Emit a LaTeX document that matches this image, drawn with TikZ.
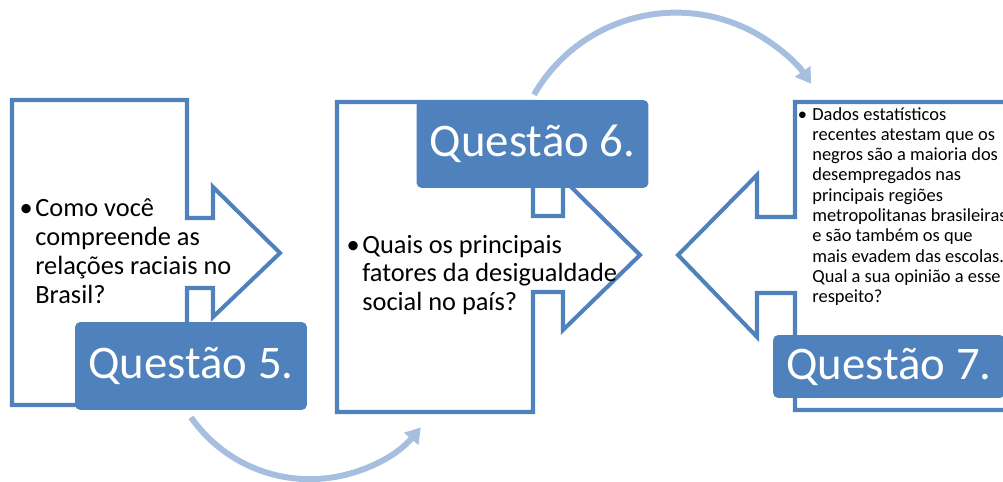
\documentclass[tikz,border=0pt]{standalone}
\usepackage{fontspec}
\setmainfont{Carlito}
\usetikzlibrary{arrows.meta,positioning}
\definecolor{qblue}{RGB}{79,129,189}
\definecolor{qarc}{RGB}{167,191,222}
\tikzset{
  callout/.style={draw=qblue, line width=2.3pt, line join=miter, fill=white},
  qlabel/.style={fill=qblue, rounded corners=3pt, text=white, inner sep=0pt,
    font=\fontsize{26.6}{30}\selectfont, minimum width=4.64cm, minimum height=1.76cm},
  qtext/.style={align=left, anchor=base west, inner sep=0pt, font=\fontsize{15}{16.33}\selectfont},
  qsmall/.style={align=left, anchor=base west, inner sep=0pt, font=\fontsize{10.5}{11.55}\selectfont},
  flow/.style={draw=qarc, line width=3.4pt, -{Triangle[length=0.3cm,width=0.36cm]}}
}

\begin{document}
\begin{tikzpicture}[x=0.02cm,y=0.02cm]
  \path[use as bounding box] (0,0) rectangle (1003,481);
  \clip (0,0) rectangle (1003,481);

  % outlines
  \draw[callout] (12,381) -- (187,381) -- (187,263) -- (213,263) -- (213,294) -- (280,228)
    -- (213,164) -- (213,193) -- (187,193) -- (187,76) -- (12,76) -- cycle;
  \draw[callout] (337,379) -- (533,379) -- (533,265) -- (563,265) -- (563,302) -- (640,226)
    -- (563,151) -- (563,189) -- (533,189) -- (533,69) -- (337,69) -- cycle;
  \draw[callout] (1020,379) -- (795,379) -- (795,264) -- (757,264) -- (757,306) -- (678,226)
    -- (757,144) -- (757,188) -- (795,188) -- (795,71) -- (1020,71) -- cycle;

  % labels
  \node[qlabel] (q5) at (191,115) {Questão 5.};
  \node[qlabel] (q6) at (532.5,337) {Questão 6.};
  \node[qlabel, minimum height=1.26cm] (q7) at (889,114.5) {Questão 7.};

  % connectors
  \draw[flow] ([yshift=-0.14cm]q5.south) arc[start angle=215, end angle=320, radius=2.9cm];
  \draw[flow] ([yshift=0.1cm,xshift=0.03cm]q6.north) arc[start angle=150, end angle=34.5, radius=3.28cm];

  % texts (placed at the baseline of the last line)
  \node[qtext] (t5) at (35,178) {\llap{\textbullet\hspace{1.5pt}}Como você\\compreende as\\relações raciais no\\Brasil?};
  \node[qtext] (t6) at (362,170.6) {\llap{\textbullet\hspace{1.5pt}}Quais os principais\\fatores da desigualdade\\social no país?};
  \node[qsmall] (t7) at (812,178.3) {\llap{\textbullet\hspace{3pt}}Dados estatísticos\\recentes atestam que os\\negros são a maioria dos\\desempregados nas\\principais regiões\\metropolitanas brasileiras\\e são também os que\\mais evadem das escolas.\\Qual a sua opinião a esse\\respeito?};
\end{tikzpicture}
\end{document}
